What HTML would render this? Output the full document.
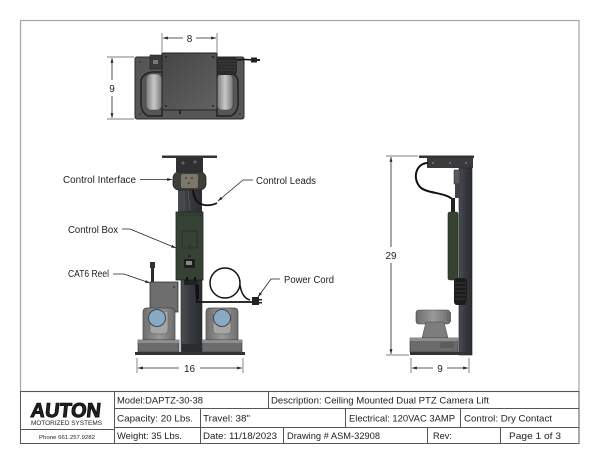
<!DOCTYPE html>
<html><head><meta charset="utf-8"><style>
html,body{margin:0;padding:0;background:#fff;}
svg{display:block;}
text{font-family:"Liberation Sans",sans-serif;fill:#222;}
</style></head><body>
<svg width="600" height="464" viewBox="0 0 600 464" xmlns="http://www.w3.org/2000/svg">
<defs>
<linearGradient id="gbox" x1="0" y1="0" x2="1" y2="1"><stop offset="0" stop-color="#454545"/><stop offset="1" stop-color="#626262"/></linearGradient>
<linearGradient id="gcyl" x1="0" y1="0" x2="1" y2="0"><stop offset="0" stop-color="#777"/><stop offset=".5" stop-color="#c8c8c8"/><stop offset="1" stop-color="#777"/></linearGradient>
<linearGradient id="gcol" x1="0" y1="0" x2="1" y2="0"><stop offset="0" stop-color="#4a4d52"/><stop offset=".5" stop-color="#35383c"/><stop offset="1" stop-color="#2b2d30"/></linearGradient>
<linearGradient id="gcam" x1="0" y1="0" x2="1" y2="0"><stop offset="0" stop-color="#6e6e6e"/><stop offset=".5" stop-color="#9a9a9a"/><stop offset="1" stop-color="#6e6e6e"/></linearGradient>
<marker id="ar" viewBox="0 0 10 10" refX="10" refY="5" markerWidth="6" markerHeight="6" orient="auto-start-reverse"><path d="M0,2 L10,5 L0,8 z" fill="#222"/></marker>
</defs>

<rect x="20.5" y="20.5" width="558.5" height="371" fill="none" stroke="#a5a5a5" stroke-width="1.2"/>

<!-- TOP VIEW -->
<rect x="135" y="57" width="109" height="62" rx="2" fill="#565656" stroke="#2a2a2a" stroke-width="1"/>
<path d="M141,84 Q140,74 152,72 L162,72 L162,116 L148,116 Q140,112 141,100 Z" fill="none" stroke="#222" stroke-width="1.5"/>
<rect x="146" y="74" width="16" height="36" rx="5" fill="url(#gcyl)" stroke="#444" stroke-width=".6"/>
<path d="M238,84 Q239,74 227,72 L217,72 L217,116 L231,116 Q239,112 238,100 Z" fill="none" stroke="#222" stroke-width="1.5"/>
<rect x="217" y="74" width="16" height="36" rx="5" fill="url(#gcyl)" stroke="#444" stroke-width=".6"/>
<rect x="150" y="55" width="12" height="14" fill="#3a3a3a" stroke="#222" stroke-width=".6"/>
<rect x="153" y="60" width="5" height="4" fill="#777"/>
<rect x="217" y="57" width="20" height="18" rx="3" fill="#2a2a2a"/>
<path d="M218,61 H236 M218,64 H236 M218,67 H236 M218,70 H236" stroke="#555" stroke-width=".6"/>
<path d="M237,60 Q245,59 252,60" stroke="#111" stroke-width="1.5" fill="none"/>
<rect x="251" y="57.5" width="6" height="5" fill="#222"/>
<rect x="257" y="59" width="3" height="2" fill="#222"/>
<rect x="162" y="53" width="55" height="57" fill="url(#gbox)" stroke="#222" stroke-width="1"/>
<circle cx="166" cy="57" r="1" fill="#222"/><circle cx="213" cy="57" r="1" fill="#222"/>
<circle cx="166" cy="106" r="1" fill="#222"/><circle cx="213" cy="106" r="1" fill="#222"/>
<circle cx="140" cy="62" r=".8" fill="#222"/><circle cx="240" cy="114" r=".8" fill="#222"/><circle cx="140" cy="114" r=".8" fill="#222"/>
<rect x="179" y="110" width="2" height="4" fill="#222"/>
<line x1="162" y1="33" x2="162" y2="52" stroke="#555" stroke-width=".7"/>
<line x1="217" y1="33" x2="217" y2="52" stroke="#555" stroke-width=".7"/>
<line x1="163" y1="38" x2="183" y2="38" stroke="#222" stroke-width=".8" marker-start="url(#ar)"/>
<line x1="196" y1="38" x2="216" y2="38" stroke="#222" stroke-width=".8" marker-end="url(#ar)"/>
<text x="189.5" y="42" font-size="10" text-anchor="middle">8</text>
<line x1="107" y1="57" x2="134" y2="57" stroke="#555" stroke-width=".7"/>
<line x1="107" y1="119" x2="134" y2="119" stroke="#555" stroke-width=".7"/>
<line x1="112" y1="58" x2="112" y2="80" stroke="#222" stroke-width=".8" marker-start="url(#ar)"/>
<line x1="112" y1="96" x2="112" y2="118" stroke="#222" stroke-width=".8" marker-end="url(#ar)"/>
<text x="112" y="92" font-size="10" text-anchor="middle">9</text>

<!-- FRONT VIEW -->
<rect x="162" y="155.5" width="55" height="2.5" fill="#333"/>
<rect x="176" y="158" width="27" height="14" fill="#2e3033"/>
<circle cx="183" cy="163" r="1.5" fill="#666"/><circle cx="195" cy="162" r="1.5" fill="#666"/>
<rect x="178" y="188" width="24" height="24" fill="url(#gcol)"/>
<path d="M184,190 L184,210 M188,190 L190,210" stroke="#555" stroke-width="1"/>
<rect x="173" y="172" width="33" height="18" rx="6" fill="#3e3e3a" stroke="#222" stroke-width=".8"/>
<rect x="181" y="174" width="17" height="14" rx="2" fill="#7d766b"/>
<circle cx="186" cy="178" r=".8" fill="#222"/><circle cx="192" cy="178" r=".8" fill="#222"/><circle cx="189" cy="183" r=".8" fill="#222"/>
<path d="M193,190 Q194,203 204,205 Q211,206 217,203" stroke="#111" stroke-width="1.8" fill="none"/>
<rect x="176" y="212" width="27" height="68" fill="#364233" stroke="#222" stroke-width=".8"/>
<path d="M179,215 H201" stroke="#1a1a1a" stroke-width="1" stroke-dasharray="1 2.5"/>
<rect x="182" y="231" width="15" height="17" fill="none" stroke="#252a24" stroke-width=".7"/>
<circle cx="189.5" cy="246" r=".8" fill="#222"/>
<circle cx="189.5" cy="256" r="1.3" fill="#222"/>
<rect x="184" y="259" width="11" height="9" fill="#1e1e1e"/>
<rect x="186" y="261" width="6" height="4" fill="#888"/>
<rect x="181" y="280" width="21" height="72" fill="url(#gcol)" stroke="#222" stroke-width=".6"/>
<rect x="182" y="344" width="19" height="8" fill="#2a2c2e"/>
<rect x="184" y="280" width="14" height="5" fill="#222"/>
<rect x="186" y="277" width="2" height="4" fill="#111"/><rect x="194" y="277" width="2" height="4" fill="#111"/>
<path d="M196,285 L197,302 L254,302" stroke="#111" stroke-width="1.8" fill="none"/>
<rect x="196" y="285" width="3" height="14" fill="#111"/>
<circle cx="225" cy="283" r="15" fill="none" stroke="#111" stroke-width="1.5"/>
<path d="M240,285 Q242,298 250,300" stroke="#111" stroke-width="1.5" fill="none"/>
<rect x="252" y="297" width="7" height="8" fill="#222"/>
<rect x="259" y="299" width="3" height="1.5" fill="#222"/><rect x="259" y="302" width="3" height="1.5" fill="#222"/>
<rect x="151" y="263" width="3" height="19" fill="#2a2a2a"/>
<rect x="150" y="262" width="5" height="6" fill="#333"/>
<rect x="150" y="282" width="28" height="30" fill="#6e6e6e" stroke="#333" stroke-width=".8"/>
<circle cx="174" cy="287" r=".8" fill="#222"/>
<path d="M143,312 Q143,308 147,308 L171,308 Q175,308 175,312 L175,340 L143,340 Z" fill="url(#gcam)" stroke="#444" stroke-width=".7"/>
<path d="M150,312 L150,330 Q150,334 155,334 L163,334 Q168,334 168,330 L168,312" fill="#a6a6a6" stroke="#555" stroke-width=".5"/>
<circle cx="157" cy="318" r="8.5" fill="#8aaac4" stroke="#3e4650" stroke-width="1"/>
<rect x="138" y="340" width="41" height="12" fill="#6b6b6b" stroke="#333" stroke-width=".6"/>
<rect x="138" y="340" width="41" height="3" fill="#8d8d8d"/>
<path d="M206,312 Q206,308 210,308 L234,308 Q238,308 238,312 L238,340 L206,340 Z" fill="url(#gcam)" stroke="#444" stroke-width=".7"/>
<path d="M213,312 L213,330 Q213,334 218,334 L226,334 Q231,334 231,330 L231,312" fill="#a6a6a6" stroke="#555" stroke-width=".5"/>
<circle cx="222" cy="318" r="8.5" fill="#8aaac4" stroke="#3e4650" stroke-width="1"/>
<rect x="202" y="340" width="40" height="12" fill="#6b6b6b" stroke="#333" stroke-width=".6"/>
<rect x="202" y="340" width="40" height="3" fill="#8d8d8d"/>
<rect x="135" y="352" width="110" height="3" fill="#333"/>
<line x1="137" y1="358" x2="137" y2="373" stroke="#555" stroke-width=".7"/>
<line x1="243" y1="358" x2="243" y2="373" stroke="#555" stroke-width=".7"/>
<line x1="138" y1="368" x2="179" y2="368" stroke="#222" stroke-width=".8" marker-start="url(#ar)"/>
<line x1="200" y1="368" x2="242" y2="368" stroke="#222" stroke-width=".8" marker-end="url(#ar)"/>
<text x="189.5" y="372" font-size="10" text-anchor="middle">16</text>

<text x="63" y="183" font-size="10" textLength="73" lengthAdjust="spacingAndGlyphs">Control Interface</text>
<line x1="140" y1="179.5" x2="172" y2="179.5" stroke="#222" stroke-width=".8" marker-end="url(#ar)"/>
<text x="256" y="184" font-size="10" textLength="60" lengthAdjust="spacingAndGlyphs">Control Leads</text>
<polyline points="253,180 243,180 218,201" fill="none" stroke="#222" stroke-width=".8" marker-end="url(#ar)"/>
<text x="68" y="233" font-size="10" textLength="50" lengthAdjust="spacingAndGlyphs">Control Box</text>
<polyline points="122,229 130,229 176,248" fill="none" stroke="#222" stroke-width=".8" marker-end="url(#ar)"/>
<text x="68" y="277" font-size="10" textLength="41" lengthAdjust="spacingAndGlyphs">CAT6 Reel</text>
<polyline points="113,274 124,274 150,283" fill="none" stroke="#222" stroke-width=".8" marker-end="url(#ar)"/>
<text x="284" y="283" font-size="10" textLength="50" lengthAdjust="spacingAndGlyphs">Power Cord</text>
<polyline points="280,279 271,279 258,297" fill="none" stroke="#222" stroke-width=".8" marker-end="url(#ar)"/>

<!-- SIDE VIEW -->
<rect x="419" y="155.5" width="55" height="2.5" fill="#333"/>
<rect x="427" y="158" width="46" height="10" fill="#3a3b3d"/>
<circle cx="433" cy="163" r="1" fill="#777"/><circle cx="450" cy="163" r="1" fill="#777"/><circle cx="466" cy="163" r="1" fill="#777"/>
<rect x="459" y="168" width="13" height="187" fill="url(#gcol)" stroke="#222" stroke-width=".6"/>
<rect x="454" y="170" width="6" height="14" fill="#5a5a5a" stroke="#222" stroke-width=".5"/>
<rect x="455" y="184" width="4" height="14" fill="#444"/>
<path d="M428,163 C416,163 412,178 420,187 C427,194 446,192 453,200" stroke="#111" stroke-width="2" fill="none"/>
<rect x="448" y="212" width="10" height="68" rx="2" fill="#364233" stroke="#222" stroke-width=".6"/>
<rect x="451" y="198" width="4" height="14" fill="#222"/>
<rect x="454" y="278" width="13" height="27" rx="3" fill="#1c1c1c"/>
<path d="M455,283 H466 M455,287 H466 M455,291 H466 M455,295 H466 M455,299 H466" stroke="#555" stroke-width=".6"/>
<circle cx="468" cy="303" r="2.5" fill="#333"/>
<rect x="416" y="310" width="34" height="14" rx="3" fill="url(#gcam)" stroke="#444" stroke-width=".6"/>
<rect x="447" y="312" width="4" height="10" fill="#6a6a6a"/>
<path d="M426,322 L444,322 L448,338 L422,338 Z" fill="#7d7d7d" stroke="#444" stroke-width=".5"/>
<rect x="410" y="338" width="48" height="14" fill="#6b6b6b" stroke="#333" stroke-width=".6"/>
<rect x="410" y="338" width="48" height="3" fill="#8d8d8d"/>
<rect x="440" y="342" width="14" height="6" fill="#5c5c5c"/>
<rect x="410" y="352" width="60" height="3" fill="#333"/>
<line x1="386" y1="156" x2="418" y2="156" stroke="#555" stroke-width=".7"/>
<line x1="386" y1="355" x2="409" y2="355" stroke="#555" stroke-width=".7"/>
<line x1="391" y1="157" x2="391" y2="247" stroke="#222" stroke-width=".8" marker-start="url(#ar)"/>
<line x1="391" y1="263" x2="391" y2="354" stroke="#222" stroke-width=".8" marker-end="url(#ar)"/>
<text x="391" y="259" font-size="10" text-anchor="middle">29</text>
<line x1="411" y1="358" x2="411" y2="373" stroke="#555" stroke-width=".7"/>
<line x1="469" y1="358" x2="469" y2="373" stroke="#555" stroke-width=".7"/>
<line x1="412" y1="368" x2="433" y2="368" stroke="#222" stroke-width=".8" marker-start="url(#ar)"/>
<line x1="447" y1="368" x2="468" y2="368" stroke="#222" stroke-width=".8" marker-end="url(#ar)"/>
<text x="440" y="372" font-size="10" text-anchor="middle">9</text>

<!-- TITLE BLOCK -->
<g stroke="#555" stroke-width="1" fill="none">
<rect x="20.5" y="391.5" width="558.5" height="52"/>
<line x1="114.5" y1="391.5" x2="114.5" y2="443.5"/>
<line x1="20.5" y1="429.5" x2="114.5" y2="429.5"/>
<line x1="114.5" y1="408.5" x2="579" y2="408.5"/>
<line x1="114.5" y1="427.5" x2="579" y2="427.5"/>
<line x1="268.5" y1="391.5" x2="268.5" y2="408.5"/>
<line x1="200.5" y1="408.5" x2="200.5" y2="443.5"/>
<line x1="345.5" y1="408.5" x2="345.5" y2="427.5"/>
<line x1="460.5" y1="408.5" x2="460.5" y2="427.5"/>
<line x1="283.5" y1="427.5" x2="283.5" y2="443.5"/>
<line x1="427.5" y1="427.5" x2="427.5" y2="443.5"/>
<line x1="500.5" y1="427.5" x2="500.5" y2="443.5"/>
</g>
<text x="31" y="417" font-size="20" font-weight="bold" textLength="70" lengthAdjust="spacingAndGlyphs" transform="skewX(-6) translate(43,0)" fill="#111" stroke="#111" stroke-width="1">AUTON</text>
<text x="31" y="425" font-size="6.3" textLength="71" lengthAdjust="spacingAndGlyphs" fill="#333">MOTORIZED SYSTEMS</text>
<text x="67" y="439" font-size="5.6" text-anchor="middle" textLength="56" lengthAdjust="spacingAndGlyphs" fill="#444">Phone 661.257.9282</text>

<text x="117" y="403.5" font-size="9.5" textLength="86" lengthAdjust="spacingAndGlyphs">Model:DAPTZ-30-38</text>
<text x="271" y="403.5" font-size="9.5" textLength="218" lengthAdjust="spacingAndGlyphs">Description:  Ceiling Mounted Dual PTZ Camera Lift</text>
<text x="117" y="421.5" font-size="9.5" textLength="76" lengthAdjust="spacingAndGlyphs">Capacity:  20 Lbs.</text>
<text x="203" y="421.5" font-size="9.5" textLength="47" lengthAdjust="spacingAndGlyphs">Travel:  38"</text>
<text x="349" y="421.5" font-size="9.5" textLength="106" lengthAdjust="spacingAndGlyphs">Electrical: 120VAC  3AMP</text>
<text x="464" y="421.5" font-size="9.5" textLength="88" lengthAdjust="spacingAndGlyphs">Control: Dry Contact</text>
<text x="117" y="439" font-size="9.5" textLength="65" lengthAdjust="spacingAndGlyphs">Weight: 35 Lbs.</text>
<text x="203" y="439" font-size="9.5" textLength="74" lengthAdjust="spacingAndGlyphs">Date: 11/18/2023</text>
<text x="287" y="439" font-size="9.5" textLength="93" lengthAdjust="spacingAndGlyphs">Drawing # ASM-32908</text>
<text x="433" y="439" font-size="9.5" textLength="19" lengthAdjust="spacingAndGlyphs">Rev:</text>
<text x="509" y="439" font-size="9.5" textLength="52" lengthAdjust="spacingAndGlyphs">Page 1  of  3</text>
</svg>
</body></html>
